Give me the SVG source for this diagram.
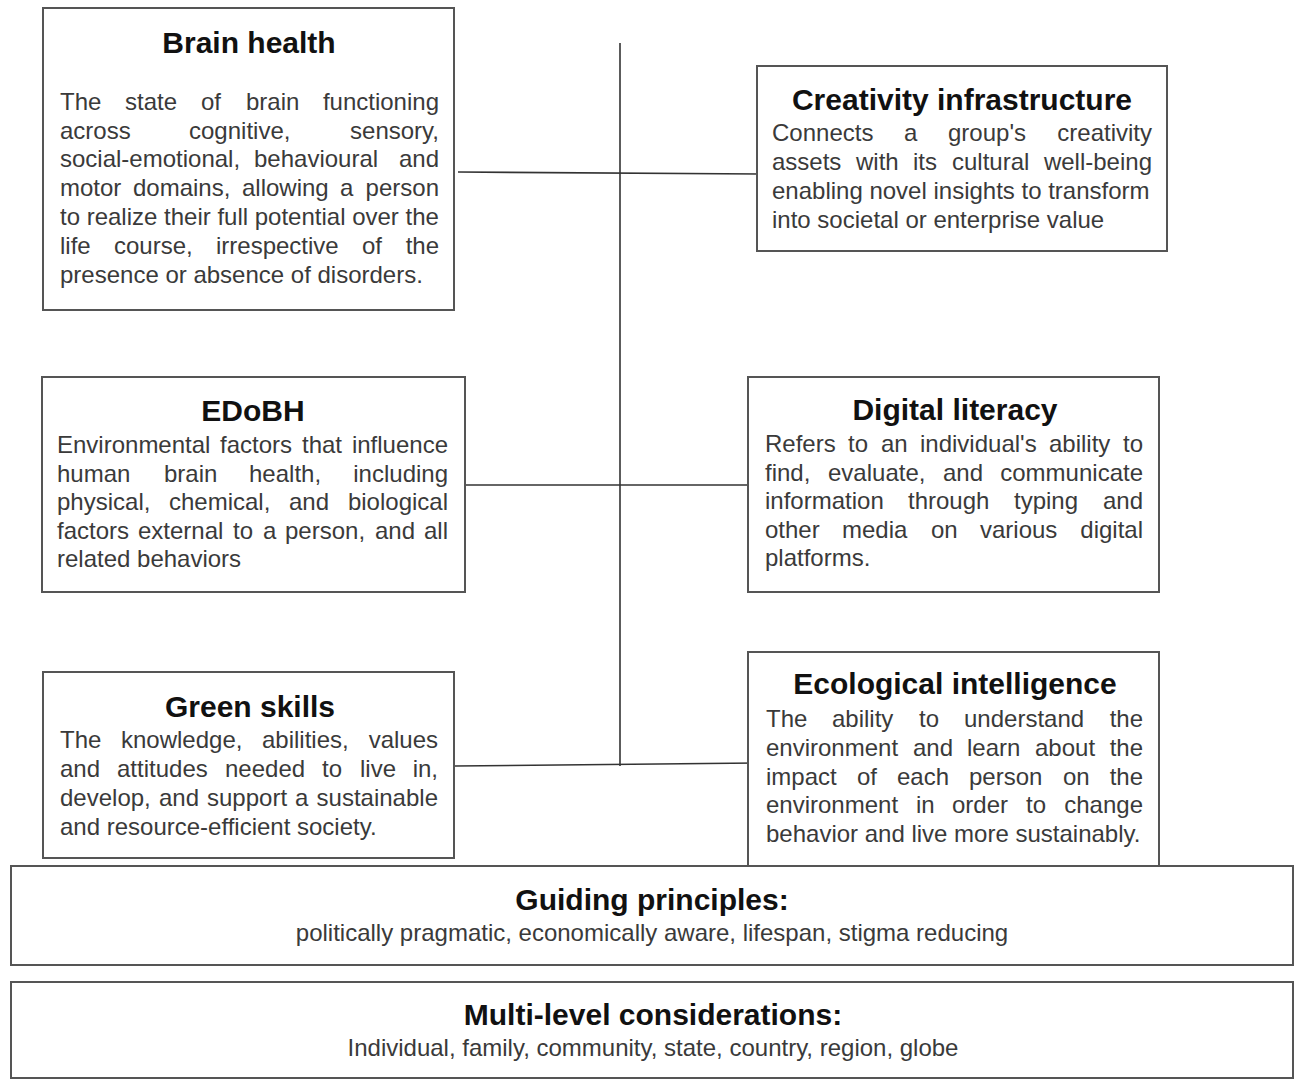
<svg xmlns="http://www.w3.org/2000/svg" width="1294" height="1081" viewBox="0 0 1294 1081">
<style>
.bg{fill:#fff}
.box{fill:#fff;stroke:#555;stroke-width:2}
.t{font-family:"Liberation Sans",Arial,sans-serif;font-weight:bold;font-size:30px;fill:#111;text-anchor:middle}
.b{font-family:"Liberation Sans",Arial,sans-serif;font-size:24px;fill:#3a3a3a}
.s{font-family:"Liberation Sans",Arial,sans-serif;font-size:24px;fill:#3a3a3a;text-anchor:middle}
.e{text-anchor:end}
.c{stroke:#333;stroke-width:1.6;fill:none}
</style>
<rect class="bg" x="0" y="0" width="1294" height="1081"/>
<g id="connectors">
<line class="c" x1="620" y1="43" x2="620" y2="766"/>
<line class="c" x1="458" y1="172" x2="760" y2="174"/>
<line class="c" x1="465" y1="485" x2="748" y2="485"/>
<line class="c" x1="455" y1="766" x2="757" y2="763"/>
</g>
<g id="brain-health">
<rect class="box" x="43" y="8" width="411" height="302"/>
<text class="t" x="249" y="53">Brain health</text>
<text class="b" y="110"><tspan x="60">The</tspan><tspan x="125">state</tspan><tspan x="201">of</tspan><tspan x="246">brain</tspan><tspan x="439" class="e">functioning</tspan></text>
<text class="b" y="138.5"><tspan x="60">across</tspan><tspan x="189">cognitive,</tspan><tspan x="439" class="e">sensory,</tspan></text>
<text class="b" y="167"><tspan x="60">social-emotional,</tspan><tspan x="254">behavioural</tspan><tspan x="439" class="e">and</tspan></text>
<text class="b" y="196"><tspan x="60">motor</tspan><tspan x="133">domains,</tspan><tspan x="242">allowing</tspan><tspan x="340">a</tspan><tspan x="439" class="e">person</tspan></text>
<text class="b" x="60" y="225">to realize their full potential over the</text>
<text class="b" y="254"><tspan x="60">life</tspan><tspan x="114">course,</tspan><tspan x="216">irrespective</tspan><tspan x="362">of</tspan><tspan x="439" class="e">the</tspan></text>
<text class="b" x="60" y="283">presence or absence of disorders.</text>
</g>
<g id="creativity-infrastructure">
<rect class="box" x="757" y="66" width="410" height="185"/>
<text class="t" x="962" y="110">Creativity infrastructure</text>
<text class="b" y="141"><tspan x="772">Connects</tspan><tspan x="904">a</tspan><tspan x="948">group's</tspan><tspan x="1152" class="e">creativity</tspan></text>
<text class="b" y="170"><tspan x="772">assets</tspan><tspan x="856">with</tspan><tspan x="913">its</tspan><tspan x="952">cultural</tspan><tspan x="1152" class="e">well-being</tspan></text>
<text class="b" x="772" y="199">enabling novel insights to transform</text>
<text class="b" x="772" y="228">into societal or enterprise value</text>
</g>
<g id="edobh">
<rect class="box" x="42" y="377" width="423" height="215"/>
<text class="t" x="253" y="421">EDoBH</text>
<text class="b" y="453"><tspan x="57">Environmental</tspan><tspan x="220">factors</tspan><tspan x="302">that</tspan><tspan x="448" class="e">influence</tspan></text>
<text class="b" y="481.5"><tspan x="57">human</tspan><tspan x="164">brain</tspan><tspan x="249">health,</tspan><tspan x="448" class="e">including</tspan></text>
<text class="b" y="510"><tspan x="57">physical,</tspan><tspan x="169">chemical,</tspan><tspan x="289">and</tspan><tspan x="448" class="e">biological</tspan></text>
<text class="b" y="538.5"><tspan x="57">factors</tspan><tspan x="138">external</tspan><tspan x="233">to</tspan><tspan x="263">a</tspan><tspan x="285">person,</tspan><tspan x="375">and</tspan><tspan x="448" class="e">all</tspan></text>
<text class="b" x="57" y="567">related behaviors</text>
</g>
<g id="digital-literacy">
<rect class="box" x="748" y="377" width="411" height="215"/>
<text class="t" x="955" y="420">Digital literacy</text>
<text class="b" y="452"><tspan x="765">Refers</tspan><tspan x="848">to</tspan><tspan x="881">an</tspan><tspan x="920">individual's</tspan><tspan x="1049">ability</tspan><tspan x="1143" class="e">to</tspan></text>
<text class="b" y="480.5"><tspan x="765">find,</tspan><tspan x="828">evaluate,</tspan><tspan x="943">and</tspan><tspan x="1143" class="e">communicate</tspan></text>
<text class="b" y="509"><tspan x="765">information</tspan><tspan x="908">through</tspan><tspan x="1014">typing</tspan><tspan x="1143" class="e">and</tspan></text>
<text class="b" y="537.5"><tspan x="765">other</tspan><tspan x="842">media</tspan><tspan x="931">on</tspan><tspan x="980">various</tspan><tspan x="1143" class="e">digital</tspan></text>
<text class="b" x="765" y="566">platforms.</text>
</g>
<g id="green-skills">
<rect class="box" x="43" y="672" width="411" height="186"/>
<text class="t" x="250" y="717">Green skills</text>
<text class="b" y="748"><tspan x="60">The</tspan><tspan x="121">knowledge,</tspan><tspan x="262">abilities,</tspan><tspan x="438" class="e">values</tspan></text>
<text class="b" y="777"><tspan x="60">and</tspan><tspan x="117">attitudes</tspan><tspan x="225">needed</tspan><tspan x="322">to</tspan><tspan x="360">live</tspan><tspan x="438" class="e">in,</tspan></text>
<text class="b" y="806"><tspan x="60">develop,</tspan><tspan x="159">and</tspan><tspan x="207">support</tspan><tspan x="295">a</tspan><tspan x="438" class="e">sustainable</tspan></text>
<text class="b" x="60" y="835">and resource-efficient society.</text>
</g>
<g id="ecological-intelligence">
<rect class="box" x="748" y="652" width="411" height="214"/>
<text class="t" x="955" y="694">Ecological intelligence</text>
<text class="b" y="727"><tspan x="766">The</tspan><tspan x="832">ability</tspan><tspan x="919">to</tspan><tspan x="964">understand</tspan><tspan x="1143" class="e">the</tspan></text>
<text class="b" y="756"><tspan x="766">environment</tspan><tspan x="913">and</tspan><tspan x="967">learn</tspan><tspan x="1035">about</tspan><tspan x="1143" class="e">the</tspan></text>
<text class="b" y="785"><tspan x="766">impact</tspan><tspan x="857">of</tspan><tspan x="897">each</tspan><tspan x="969">person</tspan><tspan x="1063">on</tspan><tspan x="1143" class="e">the</tspan></text>
<text class="b" y="813"><tspan x="766">environment</tspan><tspan x="916">in</tspan><tspan x="952">order</tspan><tspan x="1026">to</tspan><tspan x="1143" class="e">change</tspan></text>
<text class="b" x="766" y="842">behavior and live more sustainably.</text>
</g>
<g id="guiding-principles">
<rect class="box" x="11" y="866" width="1282" height="99"/>
<text class="t" x="652" y="910">Guiding principles:</text>
<text class="s" x="652" y="941">politically pragmatic, economically aware, lifespan, stigma reducing</text>
</g>
<g id="multi-level-considerations">
<rect class="box" x="11" y="982" width="1282" height="96"/>
<text class="t" x="653" y="1025">Multi-level considerations:</text>
<text class="s" x="653" y="1056">Individual, family, community, state, country, region, globe</text>
</g>
</svg>
